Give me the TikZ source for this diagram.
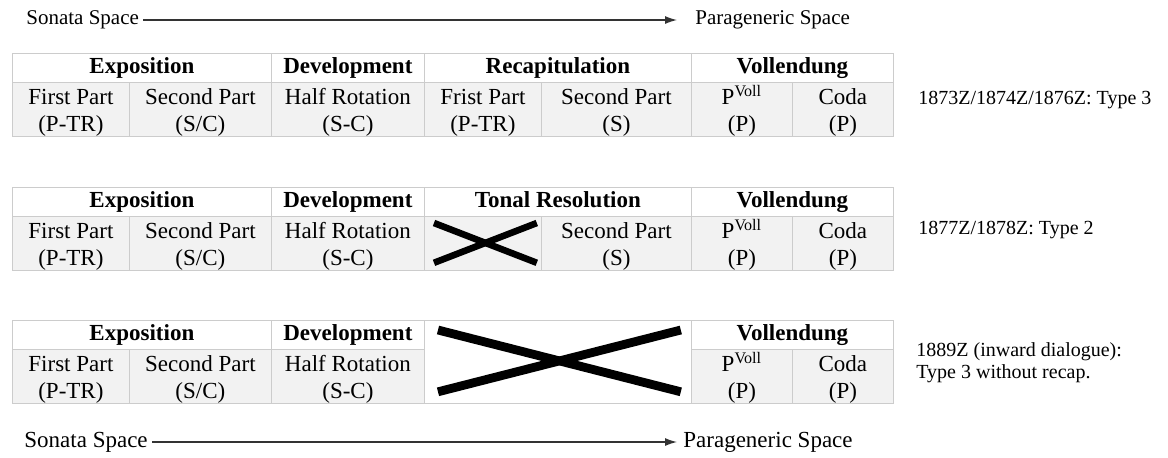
\documentclass[tikz,border=0pt]{standalone}
\usepackage{fontspec}
\setmainfont{Liberation Serif}
\usetikzlibrary{arrows.meta}

\definecolor{gridgray}{HTML}{CCCCCC}
\definecolor{cellgray}{HTML}{F2F2F2}

% two lines per cell, set a little low as in the table
\newcommand{\twolines}[2]{\rule{0pt}{9pt}#1\\\raisebox{0pt}[\height][0pt]{#2}}
\newcommand{\pvoll}{P\smash{\textsuperscript{Voll}}}

\begin{document}
\begin{tikzpicture}[
    x=0.5pt, y=-0.5pt,
    headcell/.style={draw=gridgray, fill=white, minimum height=14.5pt, inner sep=0pt, text height=8pt, text depth=2.5pt, anchor=north west, font=\fontsize{11.5}{13.5}\selectfont\bfseries},
    bodycell/.style={draw=gridgray, fill=cellgray, minimum height=27pt, inner sep=0pt, anchor=north west, align=center, font=\fontsize{11.5}{13.5}\selectfont},
    sidelabel/.style={anchor=west, align=left, inner sep=0pt, font=\fontsize{10}{11}\selectfont},
    spacelabel/.style={anchor=west, inner sep=0pt},
    spacearrow/.style={black!80, line width=0.6pt, -{Latex[length=6pt,width=4pt]}},
    crossline/.style={line width=3.3pt},
    bigcrossline/.style={line width=4.4pt}
    ]
    \useasboundingbox (0,0) rectangle (1168,457);

    % top arrow
    \node [spacelabel, font=\fontsize{10.5}{12}\selectfont] (son1) at (26, 20) { Sonata Space };
    \node [spacelabel, font=\fontsize{10.5}{12}\selectfont] (par1) at (695, 20) { Parageneric Space };
    \draw [spacearrow] ([xshift=2pt]son1.east) -- ([xshift=-9pt]par1.west);

    % table 1
    \node [headcell, minimum width=129.5pt] (expo1) at (12, 53) { Exposition };
    \node [headcell, minimum width=76.5pt] (dev1) at (271, 53) { Development };
    \node [headcell, minimum width=133.5pt] (recap1) at (424, 53) { Recapitulation };
    \node [headcell, minimum width=101pt] (voll1) at (691, 53) { Vollendung };
    \node [bodycell, minimum width=58.5pt] (fp1) at (12, 82) { \twolines{First Part}{(P-TR)} };
    \node [bodycell, minimum width=71pt] (sp1) at (129, 82) { \twolines{Second Part}{(S/C)} };
    \node [bodycell, minimum width=76.5pt] (hr1) at (271, 82) { \twolines{Half Rotation}{(S-C)} };
    \node [bodycell, minimum width=58.5pt] (rfp1) at (424, 82) { \twolines{Frist Part}{(P-TR)} };
    \node [bodycell, minimum width=75pt] (rsp1) at (541, 82) { \twolines{Second Part}{(S)} };
    \node [bodycell, minimum width=50.5pt] (pv1) at (691, 82) { \twolines{\pvoll}{(P)} };
    \node [bodycell, minimum width=50.5pt] (coda1) at (792, 82) { \twolines{Coda}{(P)} };
    \node [sidelabel] (type1) at (918, 100) { 1873Z/1874Z/1876Z: Type 3 };

    % table 2
    \node [headcell, minimum width=129.5pt] (expo2) at (12, 187) { Exposition };
    \node [headcell, minimum width=76.5pt] (dev2) at (271, 187) { Development };
    \node [headcell, minimum width=133.5pt] (tonal2) at (424, 187) { Tonal Resolution };
    \node [headcell, minimum width=101pt] (voll2) at (691, 187) { Vollendung };
    \node [bodycell, minimum width=58.5pt] (fp2) at (12, 216) { \twolines{First Part}{(P-TR)} };
    \node [bodycell, minimum width=71pt] (sp2) at (129, 216) { \twolines{Second Part}{(S/C)} };
    \node [bodycell, minimum width=76.5pt] (hr2) at (271, 216) { \twolines{Half Rotation}{(S-C)} };
    \node [bodycell, minimum width=58.5pt] (gap2) at (424, 216) {};
    \node [bodycell, minimum width=75pt] (rsp2) at (541, 216) { \twolines{Second Part}{(S)} };
    \node [bodycell, minimum width=50.5pt] (pv2) at (691, 216) { \twolines{\pvoll}{(P)} };
    \node [bodycell, minimum width=50.5pt] (coda2) at (792, 216) { \twolines{Coda}{(P)} };
    \node [sidelabel] (type2) at (918, 230) { 1877Z/1878Z: Type 2 };
    \draw [crossline] ([xshift=5pt,yshift=-3.5pt]gap2.north west) -- ([xshift=-2.5pt,yshift=4pt]gap2.south east);
    \draw [crossline] ([xshift=5pt,yshift=4pt]gap2.south west) -- ([xshift=-2.5pt,yshift=-3.5pt]gap2.north east);

    % table 3
    \node [headcell, minimum width=129.5pt] (expo3) at (12, 320) { Exposition };
    \node [headcell, minimum width=76.5pt] (dev3) at (271, 320) { Development };
    \node [headcell, minimum width=133.5pt, minimum height=41.5pt] (gap3) at (424, 320) {};
    \node [headcell, minimum width=101pt] (voll3) at (691, 320) { Vollendung };
    \node [bodycell, minimum width=58.5pt] (fp3) at (12, 349) { \twolines{First Part}{(P-TR)} };
    \node [bodycell, minimum width=71pt] (sp3) at (129, 349) { \twolines{Second Part}{(S/C)} };
    \node [bodycell, minimum width=76.5pt] (hr3) at (271, 349) { \twolines{Half Rotation}{(S-C)} };
    \node [bodycell, minimum width=50.5pt] (pv3) at (691, 349) { \twolines{\pvoll}{(P)} };
    \node [bodycell, minimum width=50.5pt] (coda3) at (792, 349) { \twolines{Coda}{(P)} };
    \node [sidelabel] (type3) at (916, 363) { 1889Z (inward dialogue):\\Type 3 without recap. };
    \draw [bigcrossline] ([xshift=7pt,yshift=-5pt]gap3.north west) -- ([xshift=-5.5pt,yshift=6pt]gap3.south east);
    \draw [bigcrossline] ([xshift=7pt,yshift=6pt]gap3.south west) -- ([xshift=-5.5pt,yshift=-5pt]gap3.north east);

    % bottom arrow
    \node [spacelabel, font=\fontsize{11.5}{13}\selectfont] (son2) at (24, 442) { Sonata Space };
    \node [spacelabel, font=\fontsize{11.5}{13}\selectfont] (par2) at (683, 442) { Parageneric Space };
    \draw [spacearrow] ([xshift=2pt]son2.east) -- ([xshift=-3pt]par2.west);
\end{tikzpicture}
\end{document}
